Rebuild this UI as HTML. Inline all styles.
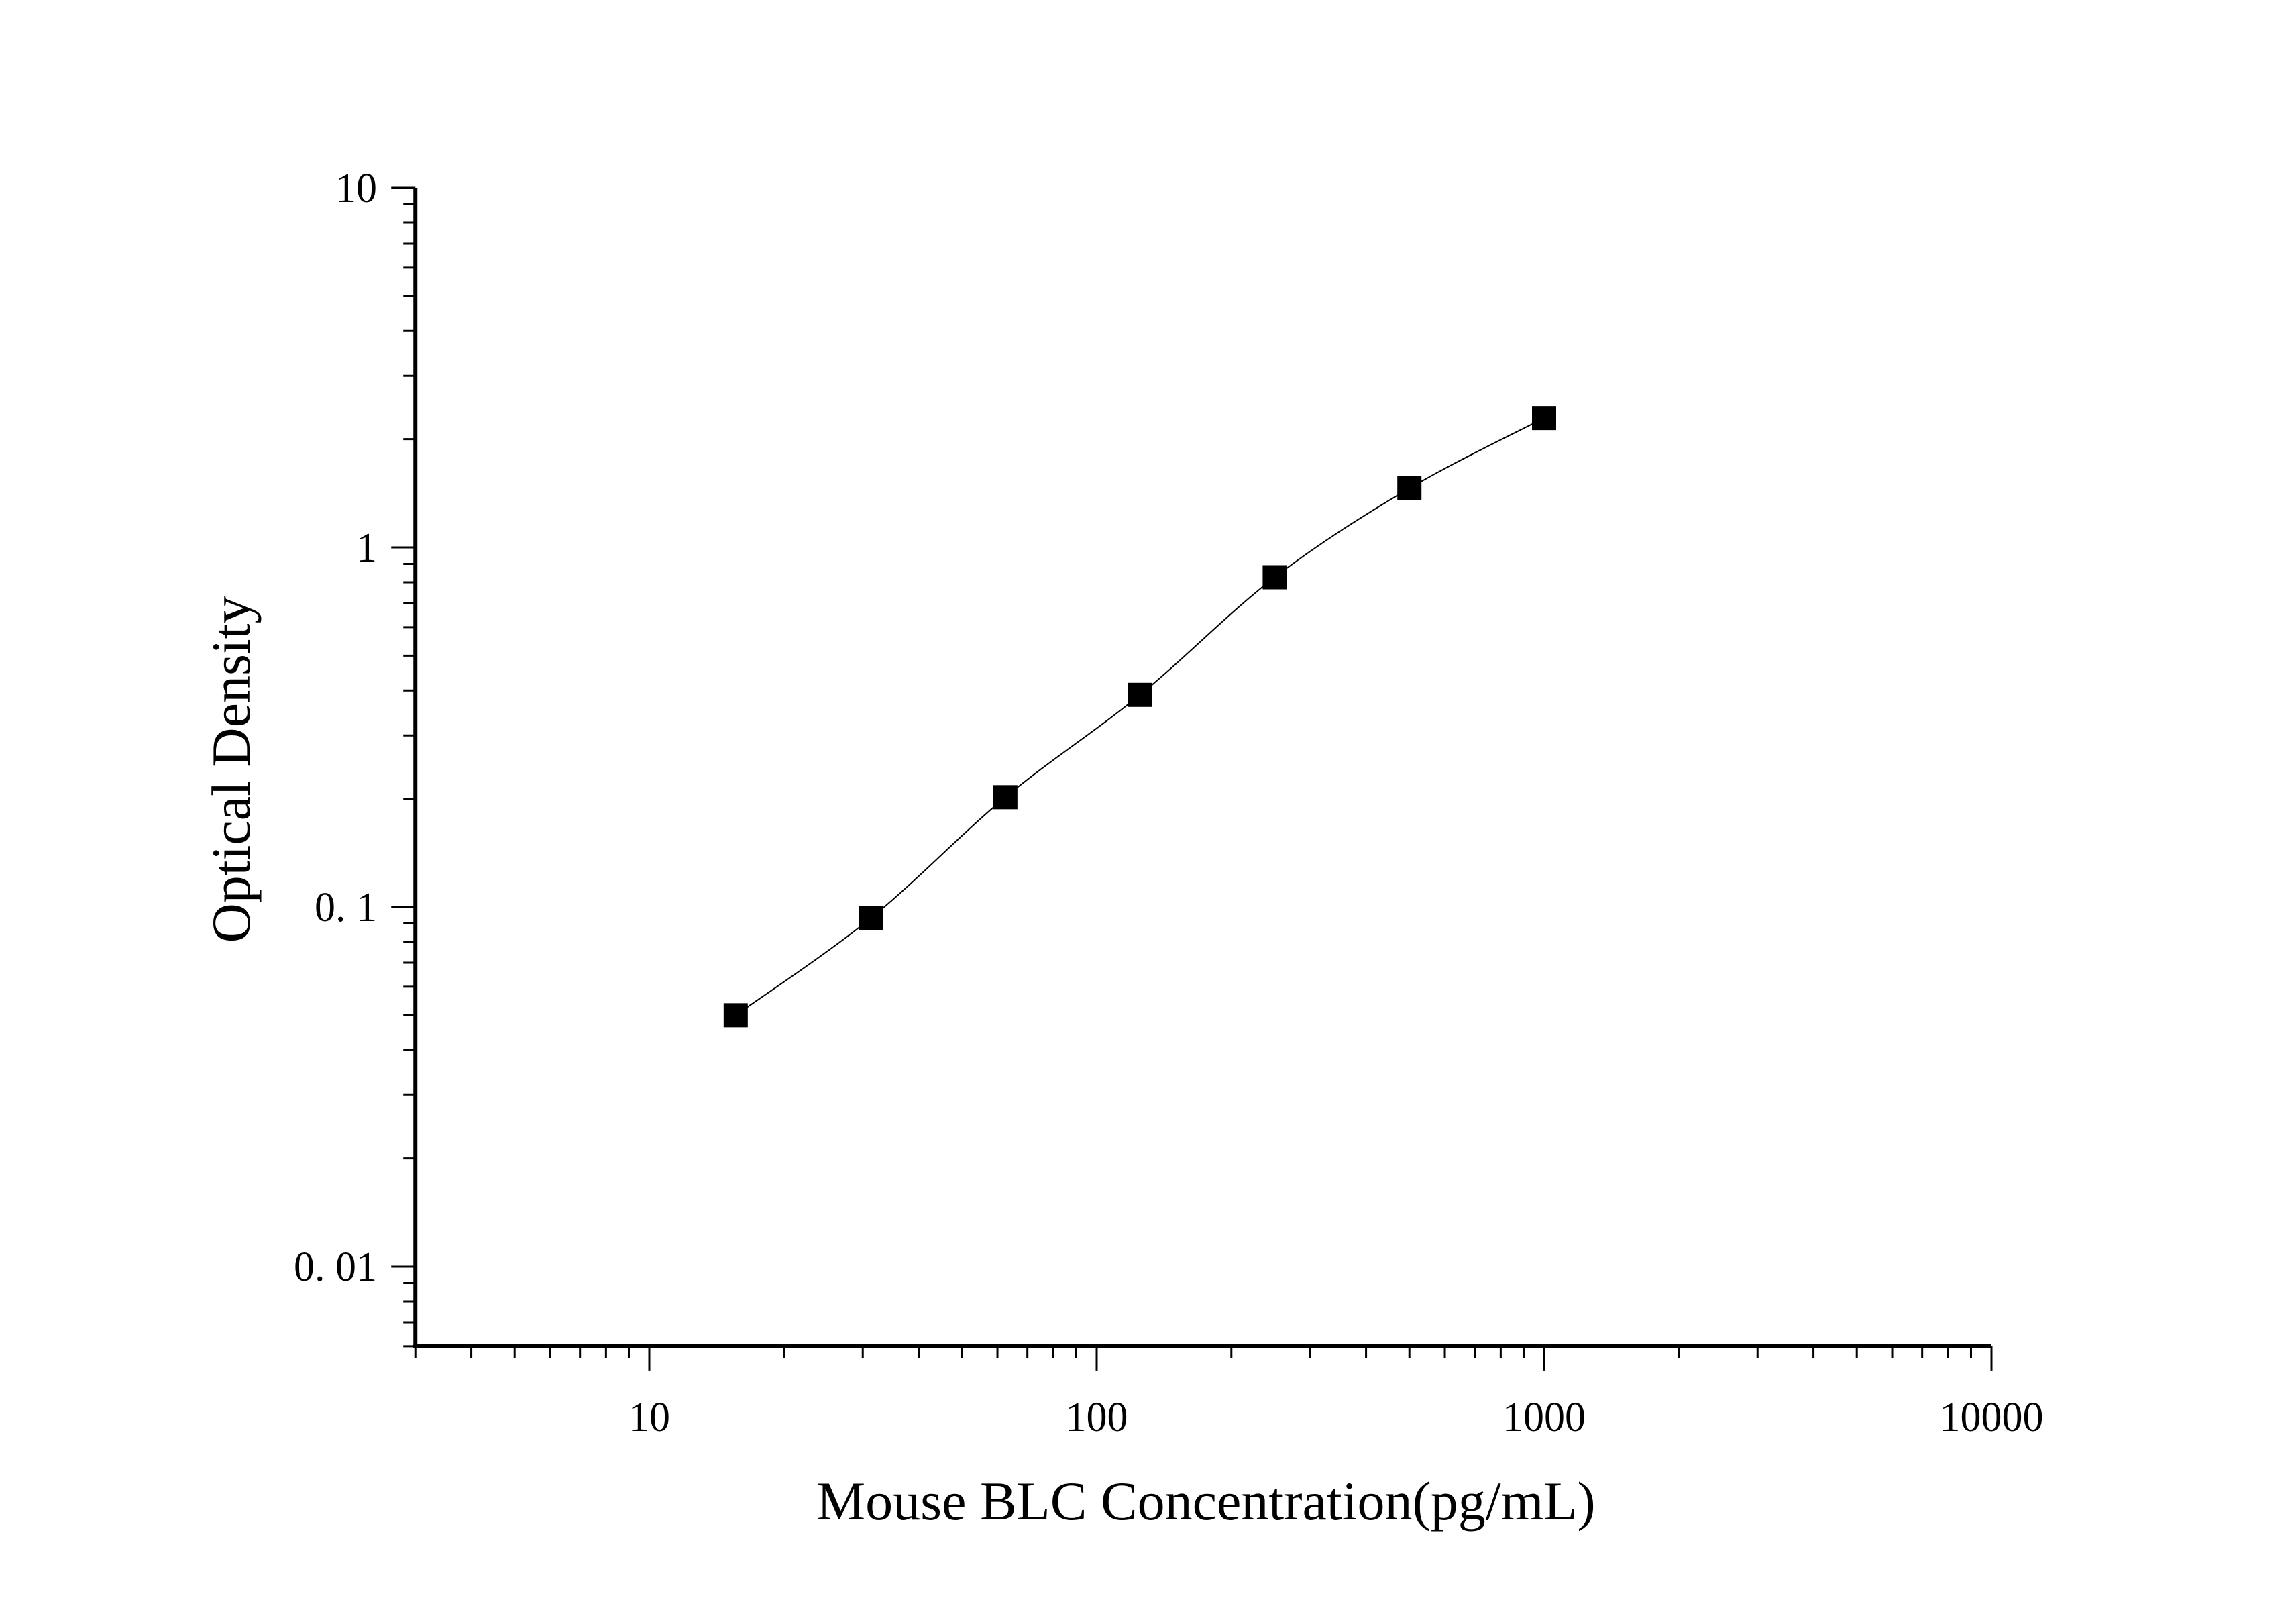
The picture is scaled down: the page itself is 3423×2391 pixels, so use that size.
<!DOCTYPE html>
<html><head><meta charset="utf-8"><style>
html,body{margin:0;padding:0;background:#fff;}
svg{display:block;}
text{font-family:"Liberation Serif",serif;fill:#000;}
</style></head><body>
<svg id="chart" width="3423" height="2391" viewBox="0 0 3423 2391" xmlns="http://www.w3.org/2000/svg"></svg>
<script>
const concentrations = [15.6, 31.25, 62.5, 125, 250, 500, 1000];
const odValues = [0.05, 0.093, 0.202, 0.389, 0.826, 1.46, 2.29];
const xTickValues = [10, 100, 1000, 10000];
const xTickLabels = ["10", "100", "1000", "10000"];
const yTickValues = [0.01, 0.1, 1, 10];
const yTickLabels = ["0. 01", "0. 1", "1", "10"];

const NS = "http://www.w3.org/2000/svg";
const svgRoot = document.getElementById("chart");
const X0 = 968, XD = 667;
const Y0 = 280, YD = 536;
const xMin = 3, xMax = 10000, yMin = 0.006, yMax = 10;
function sx(v){ return X0 + (Math.log10(v) - 1) * XD; }
function sy(v){ return Y0 + (1 - Math.log10(v)) * YD; }
function mk(tag, attrs, parent){
  const e = document.createElementNS(NS, tag);
  for (const k in attrs) e.setAttribute(k, attrs[k]);
  (parent || svgRoot).appendChild(e);
  return e;
}
const plotLeft = sx(xMin), plotRight = sx(xMax), plotTop = sy(yMax), plotBottom = sy(yMin);

const axes = mk("g", {});


const yAxis = mk("line", {x1:plotLeft, y1:plotTop, x2:plotLeft, y2:plotBottom+3, stroke:"#000","stroke-width":6}, axes);


const xAxis = mk("line", {x1:plotLeft-3, y1:plotBottom, x2:plotRight, y2:plotBottom, stroke:"#000","stroke-width":6}, axes);



for (let d = 0; d <= 4; d++) {
  for (let m = 1; m <= 9; m++) {
    const v = m * Math.pow(10, d);
    if (v < xMin || v > xMax) continue;
    const major = m === 1;
    const t = mk("line", {x1:sx(v), y1:plotBottom, x2:sx(v), y2:plotBottom + (major ? 36 : 18), stroke:"#000","stroke-width":3}, axes);
    
    
  }
}
for (let d = -3; d <= 1; d++) {
  for (let m = 1; m <= 9; m++) {
    const v = m * Math.pow(10, d);
    if (v < yMin - 1e-9 || v > yMax + 1e-9) continue;
    const major = m === 1;
    const t = mk("line", {x1:plotLeft, y1:sy(v), x2:plotLeft - (major ? 36 : 18), y2:sy(v), stroke:"#000","stroke-width":3}, axes);
    
    
  }
}
xTickValues.forEach((v, i) => {
  const t = mk("text", {x:sx(v), y:2133, "text-anchor":"middle","font-size":62});
  t.textContent = xTickLabels[i];
  
  
});
yTickValues.forEach((v, i) => {
  const t = mk("text", {x:562, y:sy(v)+21, "text-anchor":"end","font-size":62});
  t.textContent = yTickLabels[i];
  
  
});
const xt = mk("text", {x:1798, y:2265, "text-anchor":"middle","font-size":82});
xt.textContent = "Mouse BLC Concentration(pg/mL)";


const yt = mk("text", {x:0, y:0, "text-anchor":"middle","font-size":82, transform:"translate(372,1147) rotate(-90)"});
yt.textContent = "Optical Density";



const pts = concentrations.map((c, i) => [sx(c), sy(odValues[i])]);
let pathD = "M" + pts[0][0] + "," + pts[0][1];
for (let i = 0; i < pts.length - 1; i++) {
  const p0 = pts[i-1] || pts[i], p1 = pts[i], p2 = pts[i+1], p3 = pts[i+2] || pts[i+1];
  const c1 = [p1[0] + (p2[0]-p0[0])/6, p1[1] + (p2[1]-p0[1])/6];
  const c2 = [p2[0] - (p3[0]-p1[0])/6, p2[1] - (p3[1]-p1[1])/6];
  pathD += " C" + c1.join(",") + " " + c2.join(",") + " " + p2.join(",");
}
const curve = mk("path", {d:pathD, fill:"none", stroke:"#000","stroke-width":2});


pts.forEach(p => {
  const r = mk("rect", {x:p[0]-18, y:p[1]-18, width:36, height:36, fill:"#000"});
  
  
});
</script>
</body></html>
